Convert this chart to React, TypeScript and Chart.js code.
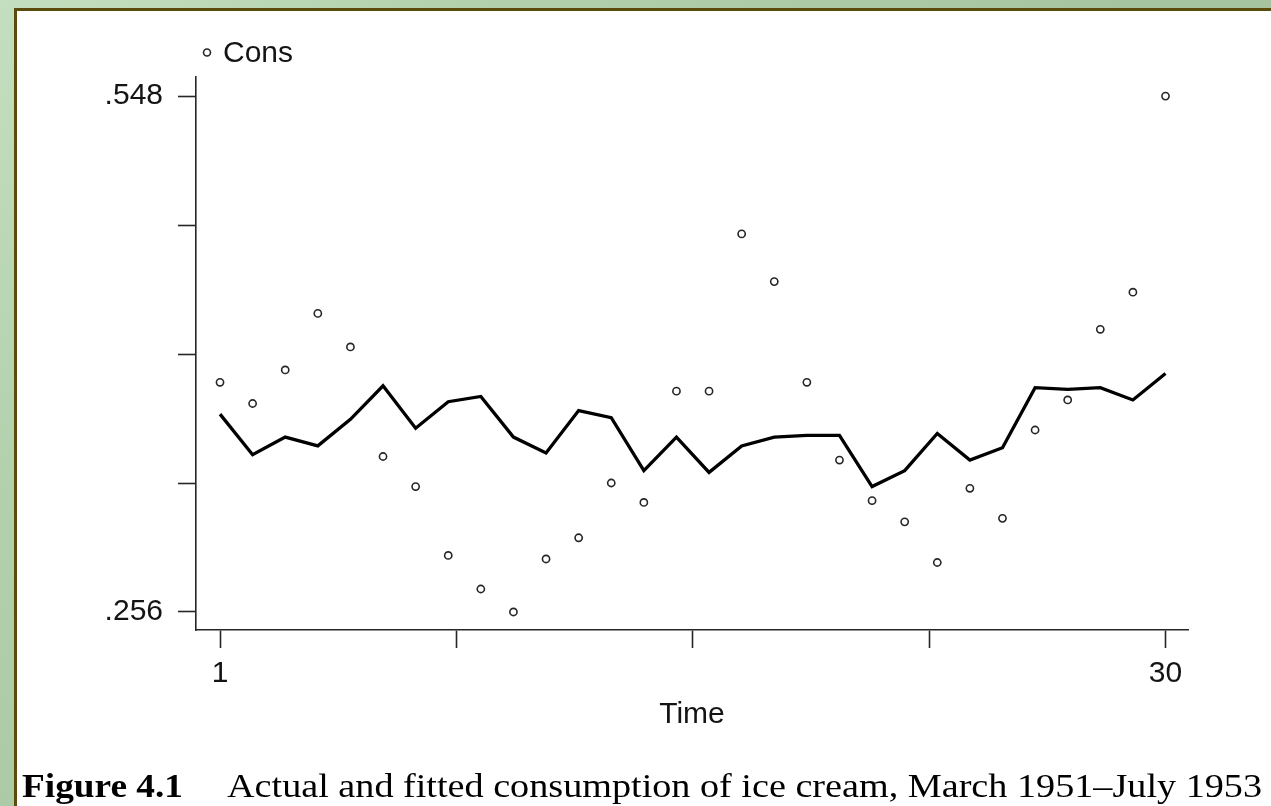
import React, { useEffect, useRef } from "react";
import { Chart, registerables } from "chart.js";

Chart.register(...registerables);

// Monthly periods, March 1951 – July 1953
const periods = [
  1, 2, 3, 4, 5, 6, 7, 8, 9, 10, 11, 12, 13, 14, 15,
  16, 17, 18, 19, 20, 21, 22, 23, 24, 25, 26, 27, 28, 29, 30,
];

// Actual per-capita ice cream consumption
const consumption = [
  0.386, 0.374, 0.393, 0.425, 0.406, 0.344, 0.327, 0.288, 0.269, 0.256,
  0.286, 0.298, 0.329, 0.318, 0.381, 0.381, 0.47, 0.443, 0.386, 0.342,
  0.319, 0.307, 0.284, 0.326, 0.309, 0.359, 0.376, 0.416, 0.437, 0.548,
];

// Fitted values from the regression
const fittedConsumption = [
  0.368, 0.345, 0.355, 0.35, 0.365, 0.384, 0.36, 0.375, 0.378, 0.355,
  0.346, 0.37, 0.366, 0.336, 0.355, 0.335, 0.35, 0.355, 0.356, 0.356,
  0.327, 0.336, 0.357, 0.342, 0.349, 0.383, 0.382, 0.383, 0.376, 0.391,
];

const yTickValues = [0.256, 0.329, 0.402, 0.475, 0.548];
const yLabelledTicks = [0.256, 0.548];
const xTickValues = [1, 8.25, 15.5, 22.75, 30];
const xLabelledTicks = [1, 30];

const legendLabel = "Cons";
const axisTitle = "Time";
const captionLead = "Figure 4.1";
const captionText = "Actual and fitted consumption of ice cream, March 1951\u2013July 1953";

const SANS = '"Liberation Sans", Arial, Helvetica, sans-serif';
const SERIF = '"Liberation Serif", "Times New Roman", Times, serif';
const INK = "#262626";
const TEXT = "#141414";

function fillTextToWidth(
  ctx: CanvasRenderingContext2D,
  text: string,
  font: string,
  x0: number,
  x1: number,
  baseline: number
) {
  ctx.save();
  ctx.font = font;
  ctx.textAlign = "left";
  ctx.textBaseline = "alphabetic";
  const w = ctx.measureText(text).width;
  ctx.translate(x0, baseline);
  ctx.scale((x1 - x0) / w, 1);
  ctx.fillText(text, 0, 0);
  ctx.restore();
}

// Legend entry and figure caption
const annotations = {
  id: "figureAnnotations",
  afterDraw(chart: any) {
    const { ctx, chartArea } = chart;
    ctx.save();
    const cy = chartArea.top - 24.5;
    const cx = chartArea.left + 11;
    ctx.beginPath();
    ctx.arc(cx, cy, 3.5, 0, Math.PI * 2);
    ctx.lineWidth = 1.6;
    ctx.strokeStyle = INK;
    ctx.stroke();
    ctx.fillStyle = TEXT;
    ctx.font = `30px ${SANS}`;
    ctx.textAlign = "left";
    ctx.textBaseline = "middle";
    ctx.fillText(legendLabel, cx + 16, cy + 1);

    ctx.fillStyle = "#000";
    fillTextToWidth(ctx, captionLead, `bold 34px ${SERIF}`, 22, 183, 797);
    fillTextToWidth(ctx, captionText, `33px ${SERIF}`, 227, 1262, 797);
    ctx.restore();
  },
};

export default function App() {
  const canvasRef = useRef<HTMLCanvasElement | null>(null);

  useEffect(() => {
    const canvas = canvasRef.current;
    if (!canvas) return;

    const chart = new Chart(canvas, {
      type: "scatter",
      data: {
        datasets: [
          {
            label: legendLabel,
            data: periods.map((t, i) => ({ x: t, y: consumption[i] })),
            pointStyle: "circle",
            pointRadius: 3.6,
            pointBorderWidth: 1.6,
            pointBorderColor: INK,
            pointBackgroundColor: "#ffffff",
            showLine: false,
          },
          {
            label: "Fitted",
            data: periods.map((t, i) => ({ x: t, y: fittedConsumption[i] })),
            showLine: true,
            borderColor: "#000000",
            borderWidth: 3.3,
            pointRadius: 0,
            tension: 0,
          },
        ],
      },
      options: {
        responsive: false,
        animation: false,
        devicePixelRatio: 1,
        layout: { padding: { left: 0, right: 83, top: 77, bottom: 0 } },
        plugins: {
          legend: { display: false },
          tooltip: { enabled: false },
        },
        scales: {
          x: {
            type: "linear",
            min: 0.2635,
            max: 30.69,
            afterFit: (scale: any) => {
              scale.height = 176;
            },
            afterBuildTicks: (scale: any) => {
              scale.ticks = xTickValues.map((v) => ({ value: v }));
            },
            ticks: {
              autoSkip: false,
              maxRotation: 0,
              padding: 8,
              color: TEXT,
              font: { family: SANS, size: 30 },
              callback: (v: any) =>
                xLabelledTicks.includes(Number(v)) ? String(v) : "",
            },
            grid: {
              drawOnChartArea: false,
              drawTicks: true,
              tickLength: 18,
              tickColor: INK,
              tickWidth: 1.6,
            },
            border: { display: true, color: INK, width: 1.6 },
            title: {
              display: true,
              text: axisTitle,
              color: TEXT,
              font: { family: SANS, size: 30 },
              padding: { top: 0, bottom: 73 },
            },
          },
          y: {
            type: "linear",
            min: 0.2458,
            max: 0.5588,
            afterFit: (scale: any) => {
              scale.width = 196;
            },
            afterBuildTicks: (scale: any) => {
              scale.ticks = yTickValues.map((v) => ({ value: v }));
            },
            ticks: {
              autoSkip: false,
              padding: 15,
              color: TEXT,
              font: { family: SANS, size: 30 },
              callback: (v: any) =>
                yLabelledTicks.includes(Number(v))
                  ? Number(v).toFixed(3).replace(/^0/, "")
                  : "",
            },
            grid: {
              drawOnChartArea: false,
              drawTicks: true,
              tickLength: 18,
              tickColor: INK,
              tickWidth: 1.6,
            },
            border: { display: true, color: INK, width: 1.6 },
          },
        },
      },
      plugins: [annotations],
    });

    return () => chart.destroy();
  }, []);

  return (
    <div
      style={{
        position: "fixed",
        left: 0,
        top: 0,
        width: 1271,
        height: 806,
        overflow: "hidden",
        background:
          "linear-gradient(135deg, #c4dfbf 0%, #b2d0ac 25%, #a6c4a0 55%, #a4c29e 100%)",
      }}
    >
      <div
        style={{
          position: "absolute",
          left: 14,
          top: 8,
          width: 1300,
          height: 850,
          background: "#ffffff",
          borderTop: "3px solid #5b4b0d",
          borderLeft: "3px solid #5b4b0d",
          boxSizing: "border-box",
        }}
      />
      <canvas
        ref={canvasRef}
        width={1271}
        height={806}
        style={{ position: "absolute", left: 0, top: 0, width: 1271, height: 806 }}
      />
    </div>
  );
}
